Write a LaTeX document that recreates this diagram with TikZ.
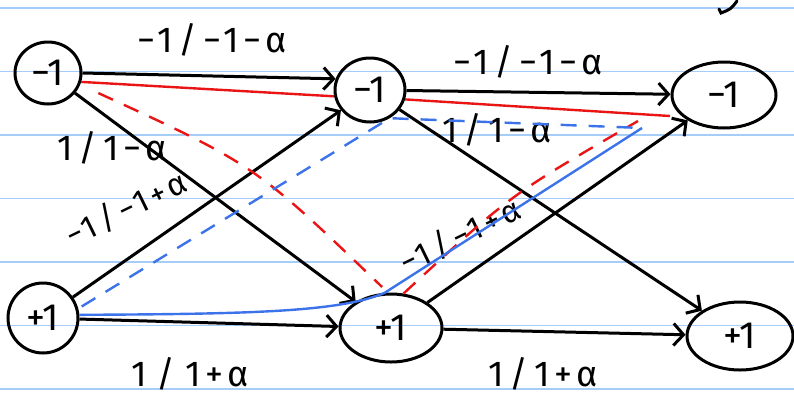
\documentclass[tikz,border=0pt]{standalone}
\usepackage{fontspec}
\setmainfont{Fira Sans}
\usetikzlibrary{arrows.meta,shapes.geometric}
\definecolor{ruleblue}{RGB}{165,205,248}
\definecolor{penred}{RGB}{235,20,20}
\definecolor{penblue}{RGB}{60,115,235}
\tikzset{
  stnode/.style={draw,ellipse,line width=3pt,inner sep=0pt,font=\fontsize{38}{44}\selectfont},
  trans/.style={line width=3pt,-{Straight Barb[length=10pt,width=22pt,line width=3pt]}},
  lbl/.style={font=\fontsize{36}{42}\selectfont\addfontfeature{LetterSpace=12},inner sep=1pt},
  slantlbl/.style={lbl,font=\fontsize{32}{38}\selectfont\addfontfeature{LetterSpace=10}},
  ruleline/.style={ruleblue,line width=1.6pt},
  redpath/.style={penred,line width=2.4pt},
  bluepath/.style={penblue,line width=2.4pt},
  pendash/.style={dash pattern=on 16pt off 12pt},
}
\begin{document}
\begin{tikzpicture}[x=1pt,y=-1pt]
\fill[white] (0,0) rectangle (794,408);
\useasboundingbox (0,0) rectangle (794,408);
% ruled paper
\foreach \k in {0,...,6}
  \draw[ruleline] (0,{8+63.5*\k}) -- (794,{8+63.5*\k});
% states
\node[stnode,minimum width=66pt,minimum height=62pt] (l1) at (48,73) {−1};
\node[stnode,minimum width=70pt,minimum height=64pt] (m1) at (370,90) {−1};
\node[stnode,minimum width=104pt,minimum height=66pt] (r1) at (724,95) {−1};
\node[stnode,minimum width=70pt,minimum height=70pt] (l2) at (43,318) {+1};
\node[stnode,minimum width=102pt,minimum height=68pt] (m2) at (391,328) {+1};
\node[stnode,minimum width=106pt,minimum height=68pt] (r2) at (740,336) {+1};
% transitions
\draw[trans] (l1.east) -- (m1.162);
\draw[trans] (l1) -- (m2);
\draw[trans] (l2) -- (m1);
\draw[trans] (l2) -- (m2);
\draw[trans] (m1) -- (r1);
\draw[trans] (m1) -- (r2);
\draw[trans] (m2) -- (r1);
\draw[trans] (m2) -- (r2);
% labels
\node[lbl] (t1) at (212,40) {−1\,/\,−1−α};
\node[lbl] (t2) at (528,62) {−1\,/\,−1−α};
\node[lbl] (d1) at (112,148) {1\,/\,1−α};
\node[lbl] (d2) at (497,130) {1\,/\,1−α};
\node[slantlbl,rotate=26] (u1) at (126,209) {−1\,/\,−1+α};
\node[slantlbl,rotate=26] (u2) at (460,236) {−1\,/\,−1+α};
\node[lbl] (b1) at (190,374) {1\;/\;1+α};
\node[lbl] (b2) at (543,374) {1\,/\,1+α};
% coloured paths
\coordinate (redtip) at (670,116);
\coordinate (reddashtip) at (638,121);
\coordinate (bluetip) at (642,128);
\draw[redpath] (l1.-15) -- (m1.190);
\draw[redpath] (m1.-15) -- (redtip);
\draw[redpath,pendash,shorten <=20pt,shorten >=8pt] (l1.-20) .. controls (255,165) .. (m2.95);
\draw[redpath,pendash] (m2.70) .. controls (510,195) .. (reddashtip);
\draw[bluepath,pendash,shorten <=4pt] (l2.15) -- (m1.-55) -- (bluetip);
\draw[bluepath] (l2.5) .. controls (250,314) and (340,312) .. (m2.100) -- (bluetip);
% stray pen stroke
\draw[line width=3pt,line cap=round] (737,1) .. controls (731,9) .. (721,13) -- (719,9);
\end{tikzpicture}
\end{document}
